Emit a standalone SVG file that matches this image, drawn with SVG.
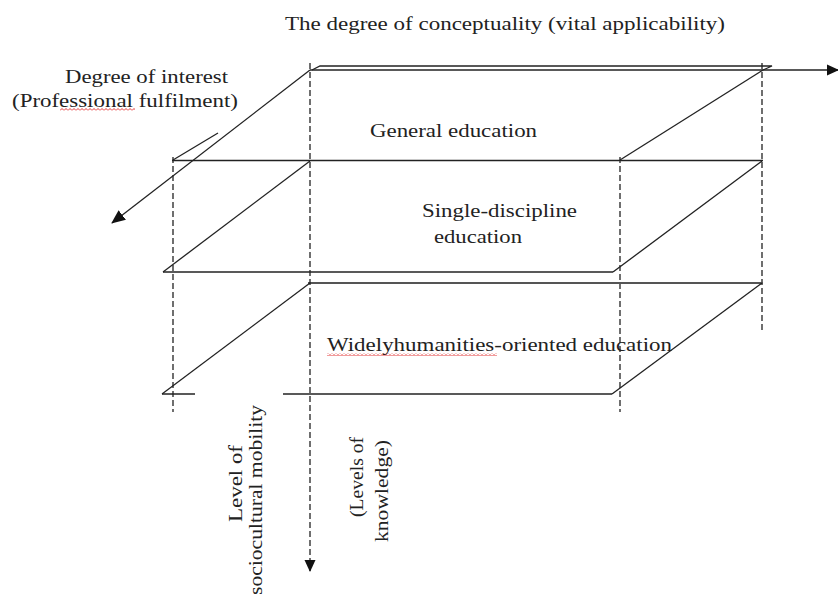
<svg xmlns="http://www.w3.org/2000/svg" width="838" height="596" viewBox="0 0 838 596">
<style>
.ln{stroke:#222;stroke-width:1.3;fill:none}
.bk{stroke:#555;stroke-width:2.2;fill:none}
.ds{stroke:#222;stroke-width:1.3;fill:none;stroke-dasharray:6 3}
.t{font-family:'Liberation Serif','DejaVu Serif',serif;font-size:19px;fill:#222}
</style>
<defs>
<marker id="ah" markerUnits="userSpaceOnUse" markerWidth="14" markerHeight="12" refX="13" refY="6" orient="auto">
<path d="M0,0 L14,6 L0,12 Z" fill="#111"/>
</marker>
<marker id="ahs" markerUnits="userSpaceOnUse" markerWidth="12" markerHeight="12" refX="11" refY="6" orient="auto">
<path d="M0,0.5 L12,6 L0,11.5 Z" fill="#111"/>
</marker>
<pattern id="sq" width="4" height="3" patternUnits="userSpaceOnUse">
<path d="M0,2.5 L2,0.5 L4,2.5" stroke="#e02020" fill="none" stroke-width="0.9"/>
</pattern>
</defs>
<rect width="838" height="596" fill="#fff"/>

<g id="guides">
<line class="ds" x1="173" y1="157" x2="173" y2="412"/>
<line class="ds" x1="620" y1="157" x2="620" y2="412"/>
<line class="ds" x1="762" y1="63" x2="762" y2="330"/>
</g>

<g id="plane-general">
<polyline class="ln" points="312,70 320,66 772,66 763,70"/>
<line class="ln" x1="763" y1="70" x2="620" y2="160"/>
<line class="ln" x1="218" y1="133" x2="173" y2="160"/>
<line class="ln" x1="172" y1="160.5" x2="763" y2="160.5"/>
<text class="t" font-family="Liberation Serif, serif" x="370" y="137" textLength="167" lengthAdjust="spacingAndGlyphs">General education</text>
</g>

<g id="plane-single">
<line class="ln" x1="310" y1="161" x2="163" y2="272"/>
<line class="ln" x1="163" y1="272" x2="613" y2="272"/>
<line class="ln" x1="613" y1="272" x2="762" y2="161"/>
<text class="t" x="422" y="217" textLength="155" lengthAdjust="spacingAndGlyphs">Single-discipline</text>
<text class="t" x="434" y="243" textLength="88" lengthAdjust="spacingAndGlyphs">education</text>
</g>

<g id="plane-wide">
<line class="bk" x1="308" y1="283" x2="763" y2="283"/>
<line class="ln" x1="310" y1="283" x2="162" y2="394"/>
<line class="ln" x1="162" y1="394" x2="195" y2="394"/>
<line class="ln" x1="283" y1="394" x2="612" y2="394"/>
<line class="ln" x1="612" y1="394" x2="762" y2="283"/>
<text class="t" x="327" y="351" textLength="345" lengthAdjust="spacingAndGlyphs">Widelyhumanities-oriented education</text>
<rect x="327" y="353" width="170" height="3" fill="url(#sq)"/>
</g>

<g id="connectors">
<line class="ln" x1="310" y1="70" x2="838" y2="70" marker-end="url(#ahs)"/>
<line class="ln" x1="310" y1="70" x2="112" y2="223" marker-end="url(#ah)"/>
<line class="ds" x1="310" y1="63" x2="310" y2="571" marker-end="url(#ahs)"/>
</g>

<g id="label-conceptuality">
<text class="t" x="285" y="30" textLength="440" lengthAdjust="spacingAndGlyphs">The degree of conceptuality (vital applicability)</text>
</g>

<g id="label-interest">
<text class="t" x="65" y="83" textLength="163" lengthAdjust="spacingAndGlyphs">Degree of interest</text>
<text class="t" x="12" y="107" textLength="226" lengthAdjust="spacingAndGlyphs">(Professional fulfilment)</text>
<rect x="60" y="108" width="75" height="3" fill="url(#sq)"/>
</g>

<g id="label-mobility">
<text class="t" transform="translate(242,522) rotate(-90)" x="0" y="0" textLength="77" lengthAdjust="spacingAndGlyphs">Level of</text>
<text class="t" transform="translate(262,595) rotate(-90)" x="0" y="0" textLength="190" lengthAdjust="spacingAndGlyphs">sociocultural mobility</text>
</g>

<g id="label-knowledge">
<text class="t" transform="translate(363,517) rotate(-90)" x="0" y="0" textLength="80" lengthAdjust="spacingAndGlyphs">(Levels of</text>
<text class="t" transform="translate(388,542) rotate(-90)" x="0" y="0" textLength="102" lengthAdjust="spacingAndGlyphs">knowledge)</text>
</g>
</svg>
